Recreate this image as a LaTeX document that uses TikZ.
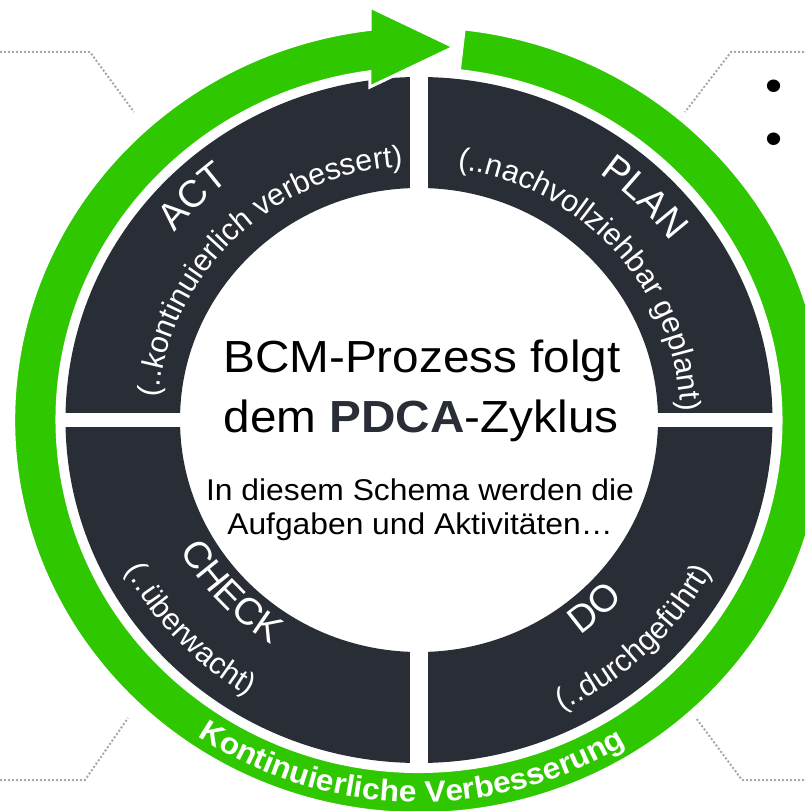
\documentclass[tikz,border=0pt]{standalone}
\usepackage{fontspec}
\setmainfont{Liberation Sans}[FakeStretch=1.06]
\newfontfamily\plainsans{Liberation Sans}
\usetikzlibrary{decorations.text}
\definecolor{segdark}{RGB}{40,45,54}
\definecolor{cycgreen}{RGB}{46,199,0}
\definecolor{dotgray}{RGB}{168,168,168}
\newcommand\segtitlefont{\plainsans\fontsize{38}{40}\selectfont}
\newcommand\segsubfont{\plainsans\fontsize{30.5}{32}\selectfont}
\newcommand\ringfont{\fontsize{30}{32}\selectfont\bfseries}
\tikzset{
  arclabel/.style={decorate, decoration={text along path, text={#1}, text align=center, text color=white}},
  dotline/.style={draw=dotgray, line width=2pt, dash pattern=on 2pt off 2pt},
  greenarrow/.style={fill=cycgreen, draw=white, line width=3pt, line join=miter},
  centertitle/.style={anchor=base, inner sep=0pt, font=\fontsize{45}{50}\selectfont},
  centersub/.style={anchor=base, inner sep=0pt, font=\fontsize{30}{34}\selectfont},
  bulletmark/.style={inner sep=0pt, font=\fontsize{46}{50}\selectfont},
}
\begin{document}
\begin{tikzpicture}[x=1pt,y=1pt]
\useasboundingbox (-419,-391) rectangle (385,420);
% dotted side connectors
\coordinate (tla) at (-419,368); \coordinate (tlb) at (-329,368); \coordinate (tlc) at (-285,308);
\coordinate (tra) at (385,368); \coordinate (trb) at (312,368); \coordinate (trc) at (266,308);
\coordinate (bla) at (-419,-360); \coordinate (blb) at (-334,-360); \coordinate (blc) at (-291,-298);
\coordinate (bra) at (385,-360); \coordinate (brb) at (323,-360); \coordinate (brc) at (277,-298);
\draw[dotline] (tla) -- (tlb) -- (tlc);
\draw[dotline] (tra) -- (trb) -- (trc);
\draw[dotline] (bla) -- (blb) -- (blc);
\draw[dotline] (bra) -- (brb) -- (brc);
% dark ring with four segments
\fill[segdark, even odd rule] (0,0) ellipse[x radius=353.5, y radius=343] (0,0) ellipse[x radius=239, y radius=232];
\fill[white] (-9,-348) rectangle (9,348);
\fill[white] (-358,-7) rectangle (358,7);
% green cycle arrow
\path[greenarrow] (83.6:405.3 and 393.5) arc[start angle=83.6, end angle=-263.06, x radius=405.3, y radius=393.5]
  -- (-49,413) -- (35,373) -- (-49,333)
  -- (-262.22:362 and 351.5) arc[start angle=-262.22, end angle=83.6, x radius=362, y radius=351.5] -- cycle;
% segment labels
\path[arclabel={|\segtitlefont|PLAN}] (90:311 and 302) arc[start angle=90, end angle=0, x radius=311, y radius=302];
\path[arclabel={|\segsubfont|(..nachvollziehbar geplant)}] (84:261.6 and 254) arc[start angle=84, end angle=-0.5, x radius=261.6, y radius=254];
\path[arclabel={|\segtitlefont|ACT}] (180:311 and 302) arc[start angle=180, end angle=90, x radius=311, y radius=302];
\path[arclabel={|\segsubfont|(..kontinuierlich verbessert)}] (179:261.6 and 254) arc[start angle=179, end angle=89.6, x radius=261.6, y radius=254];
\path[arclabel={|\segtitlefont|CHECK}] (178:274 and 266) arc[start angle=178, end angle=268, x radius=274, y radius=266];
\path[arclabel={|\segsubfont|(..überwacht)}] (178:331.7 and 322) arc[start angle=178, end angle=268, x radius=331.7, y radius=322];
\path[arclabel={|\segtitlefont|DO}] (270:274 and 266) arc[start angle=270, end angle=355, x radius=274, y radius=266];
\path[arclabel={|\segsubfont|(..durchgeführt)}] (270:331.7 and 322) arc[start angle=270, end angle=358, x radius=331.7, y radius=322];
\path[arclabel={|\ringfont|Kontinuierliche Verbesserung}] (225:393.5 and 382) arc[start angle=225, end angle=312.6, x radius=393.5, y radius=382];
% centre text
\node[centertitle] (t1) at (3,47) {BCM-Prozess folgt};
\node[centertitle] (t2) at (2,-12) {dem \textbf{\color{segdark}PDCA}-Zyklus};
\node[centersub] (s1) at (1,-80) {In diesem Schema werden die};
\node[centersub] (s2) at (1,-114) {Aufgaben und Aktivitäten…};
% bullets of cut-off text
\node[bulletmark] (b1) at (355,329) {•};
\node[bulletmark] (b2) at (355,276) {•};
\end{tikzpicture}
\end{document}
